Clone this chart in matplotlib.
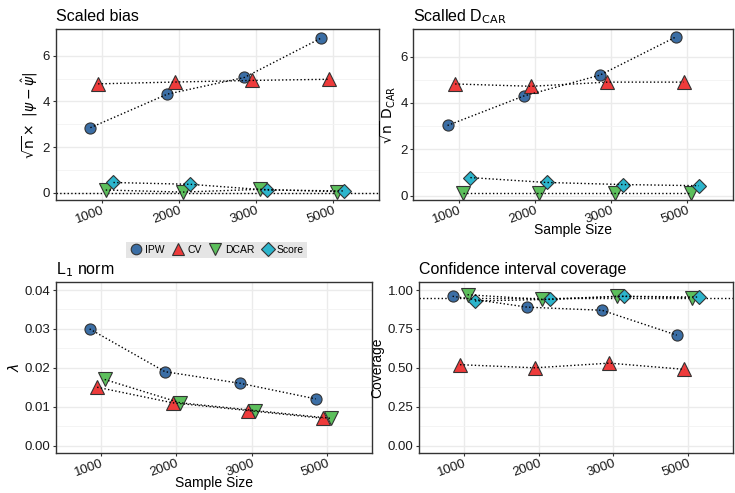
import matplotlib.pyplot as plt
import numpy as np

plt.rcParams['font.family'] = ['Liberation Sans', 'DejaVu Sans']
plt.rcParams['mathtext.fontset'] = 'dejavusans'

sizes = ['1000', '2000', '3000', '5000']
methods = ['IPW', 'CV', 'DCAR', 'Score']
colors = {'IPW': '#3b6ea5', 'CV': '#ee3b3b', 'DCAR': '#5cbf5c', 'Score': '#2cb5cc'}
markers = {'IPW': 'o', 'CV': '^', 'DCAR': 'v', 'Score': 'D'}
msize = {'IPW': 8, 'CV': 9.5, 'DCAR': 9.5, 'Score': 7}
offsets = {'IPW': -0.15, 'CV': -0.05, 'DCAR': 0.05, 'Score': 0.15}

bias = {
    'IPW': [2.85, 4.32, 5.05, 6.78],
    'CV': [4.77, 4.85, 4.92, 4.97],
    'DCAR': [0.12, 0.03, 0.15, 0.05],
    'Score': [0.45, 0.37, 0.12, 0.08],
}
dcar = {
    'IPW': [3.03, 4.30, 5.20, 6.85],
    'CV': [4.82, 4.72, 4.90, 4.90],
    'DCAR': [0.12, 0.12, 0.12, 0.12],
    'Score': [0.78, 0.57, 0.48, 0.43],
}
l1 = {
    'IPW': [0.030, 0.019, 0.016, 0.012],
    'CV': [0.015, 0.011, 0.009, 0.007],
    'DCAR': [0.017, 0.011, 0.009, 0.007],
}
coverage = {
    'IPW': [0.96, 0.89, 0.87, 0.71],
    'CV': [0.52, 0.50, 0.53, 0.49],
    'DCAR': [0.97, 0.94, 0.96, 0.95],
    'Score': [0.93, 0.94, 0.96, 0.955],
}

fig = plt.figure(figsize=(7.35, 4.93), dpi=100)
ax1 = fig.add_axes([0.0758, 0.5937, 0.44, 0.3469])
ax2 = fig.add_axes([0.5623, 0.5937, 0.435, 0.3469])
ax3 = fig.add_axes([0.0758, 0.0805, 0.4307, 0.3469])
ax4 = fig.add_axes([0.570, 0.0805, 0.427, 0.3469])


def panel(ax, data, title, ylabel, yticks, ylim, xlabel=None, hline=None, ytfmt='{:g}'):
    x = np.arange(1, len(sizes) + 1)
    for m in methods:
        if m not in data:
            continue
        xs = x + offsets[m]
        ax.plot(xs, data[m], ls=':', color='black', lw=1, zorder=3)
        ax.plot(xs, data[m], ls='none', marker=markers[m], ms=msize[m],
                mfc=colors[m], mec='#333333', mew=0.8, zorder=2)
    if hline is not None:
        ax.axhline(hline, ls=':', color='black', lw=1, zorder=1)
    ax.set_xlim(0.4, 4.6)
    ax.set_ylim(*ylim)
    ax.set_xticks(x)
    ax.set_xticklabels(sizes, rotation=20, ha='right', rotation_mode='anchor')
    ax.set_yticks(yticks)
    ax.set_yticklabels([ytfmt.format(v) for v in yticks])
    minor = [(a + b) / 2 for a, b in zip(yticks[:-1], yticks[1:])]
    ax.set_yticks(minor, minor=True)
    ax.grid(True, which='major', color='#ebebeb', lw=1)
    ax.grid(True, which='minor', axis='y', color='#f3f3f3', lw=0.6)
    ax.set_axisbelow(True)
    ax.tick_params(axis='both', labelsize=9.5, length=2.5, width=0.8, pad=1.5,
                   color='#333333', labelcolor='#1a1a1a')
    ax.tick_params(axis='x', pad=0.5)
    ax.tick_params(which='minor', length=0)
    for s in ax.spines.values():
        s.set_color('#333333')
        s.set_linewidth(1)
    ax.set_title(title, loc='left', fontsize=11.5, pad=6)
    ax.set_ylabel(ylabel, fontsize=10, labelpad=2)
    if xlabel:
        ax.set_xlabel(xlabel, fontsize=10, labelpad=-2)


panel(ax1, bias, 'Scaled bias', r'$\sqrt{\mathrm{n}}\times\ |\psi - \hat{\psi}|$',
      [0, 2, 4, 6], (-0.33, 7.16), hline=0)
panel(ax2, dcar, r'Scalled D$_{\mathrm{CAR}}$', r'$\sqrt{\mathrm{n}}\ \mathrm{D_{CAR}}$',
      [0, 2, 4, 6], (-0.2, 7.18), xlabel='Sample Size')
panel(ax3, l1, r'L$_1$ norm', r'$\lambda$',
      [0, 0.01, 0.02, 0.03, 0.04], (-0.002, 0.042), xlabel='Sample Size', ytfmt='{:.2f}')
panel(ax4, coverage, 'Confidence interval coverage', 'Coverage',
      [0, 0.25, 0.5, 0.75, 1.0], (-0.05, 1.05), hline=0.95, ytfmt='{:.2f}')

handles = [plt.Line2D([], [], ls='none', marker=markers[m], ms=msize[m] * 0.95,
                      mfc=colors[m], mec='#333333', mew=0.8) for m in methods]
fig.legend(handles, methods, loc='center', bbox_to_anchor=(0.295, 0.493), ncol=4,
           frameon=True, fontsize=7.5, handletextpad=0.3, columnspacing=0.7,
           borderpad=0.3, handlelength=1.2, facecolor='#e5e5e5', edgecolor='none',
           framealpha=1, fancybox=False)

fig.savefig('out.png', dpi=100)
